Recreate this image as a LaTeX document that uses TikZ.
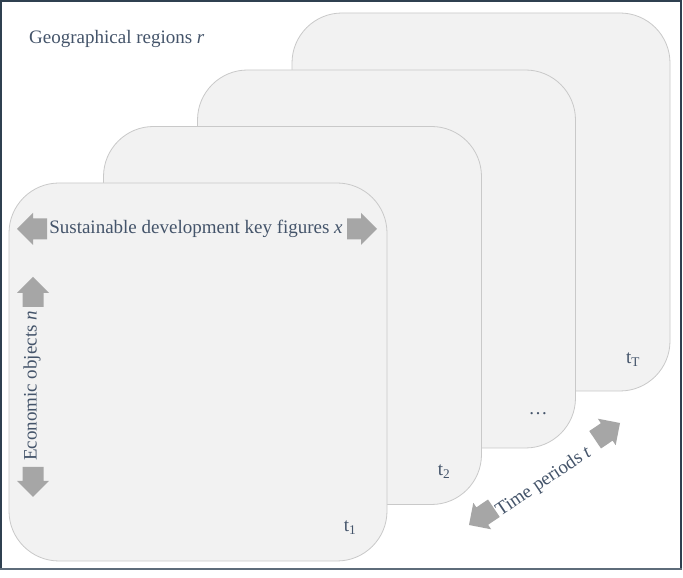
\documentclass[tikz,border=0pt]{standalone}
\usepackage{fontspec}
\setmainfont{Liberation Serif}
\definecolor{cardfill}{HTML}{F2F2F2}
\definecolor{carddraw}{HTML}{C9C9C9}
\definecolor{arrowgray}{HTML}{A6A6A6}
\definecolor{txt}{HTML}{44546A}
\definecolor{frame}{HTML}{2F4050}
\definecolor{framebot}{HTML}{5E6C7A}
\tikzset{
  card/.style={draw=carddraw, fill=cardfill, line width=0.8pt, rectangle,
    rounded corners=50pt, minimum width=378pt, minimum height=378pt, inner sep=0pt},
  lbl/.style={text=txt, font=\fontsize{19}{22}\selectfont, inner sep=0pt},
  blockarrow/.pic={\fill[arrowgray] (0,0) -- (-16,16) -- (-16,10.5) -- (-30,10.5)
    -- (-30,-10.5) -- (-16,-10.5) -- (-16,-16) -- cycle;}
}
\begin{document}
\begin{tikzpicture}[x=1pt,y=1pt]
\useasboundingbox (0,0) rectangle (683,578);
\fill[white] (0,0) rectangle (683,578);
% frame
\draw[frame, line width=2pt] (1,9) -- (1,577) -- (681,577) -- (681,9);
\draw[framebot, line width=1.5pt] (0,9) -- (682,9);
% cards, back to front
\node[card] (c4) at (481,376) {};
\node[card] (c3) at (386.5,319) {};
\node[card] (c2) at (292.5,262.5) {};
\node[card] (c1) at (198,206) {};
% period labels
\node[lbl] (l1) at (350,50) {t\textsubscript{1}};
\node[lbl] (l2) at (444,106) {t\textsubscript{2}};
\node[lbl] (l3) at (538,164) {\ldots};
\node[lbl] (lT) at (633,218) {t\textsubscript{T}};
% titles
\node[lbl, anchor=west] (geo) at (29,539) {Geographical regions \textit{r}};
\node[lbl] (sdk) at (196,349) {Sustainable development key figures \textit{x}};
\node[lbl, rotate=90] (eco) at (32,192) {Economic objects \textit{n}};
\node[lbl, rotate=34] (time) at (544,96) {Time periods \textit{t}};
% block arrows
\pic at (17,349) [rotate=180] {blockarrow};
\pic at (377,349) {blockarrow};
\pic at (33,301) [rotate=90] {blockarrow};
\pic at (33,81) [rotate=-90] {blockarrow};
\pic at (620,155) [rotate=34] {blockarrow};
\pic at (469,53) [rotate=214] {blockarrow};
\end{tikzpicture}
\end{document}
